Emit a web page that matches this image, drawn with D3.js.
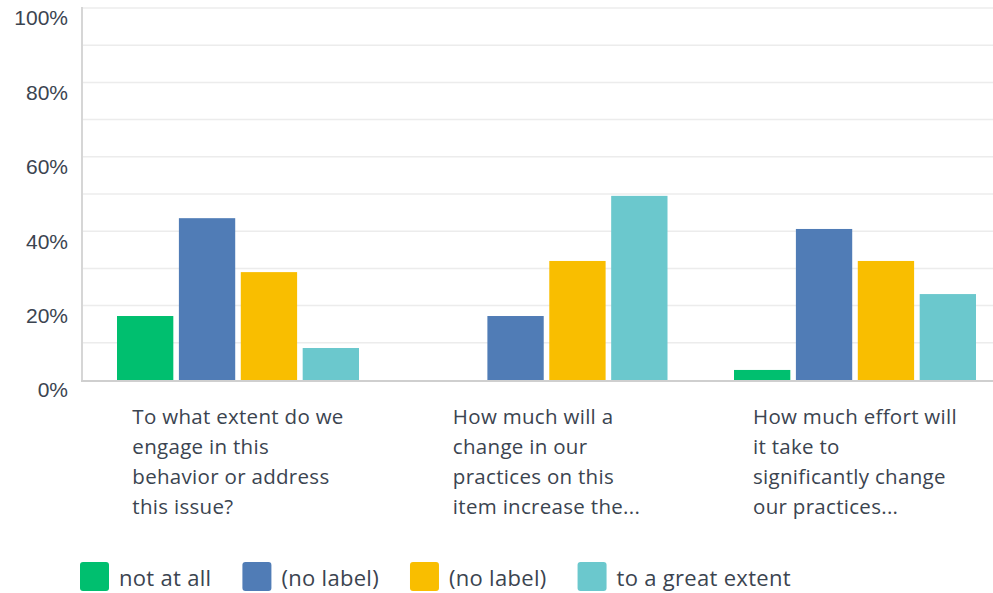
<!DOCTYPE html>
<html>
<head>
<meta charset="utf-8">
<script src="https://cdn.jsdelivr.net/npm/d3@7"></script>
<style>
  body { margin: 0; background: #fff; }
  svg { display: block; }
</style>
</head>
<body>
<div id="chart"></div>
<script>
// categories (question text, already wrapped as in the picture)
var questions = [
  ["To what extent do we", "engage in this", "behavior or address", "this issue?"],
  ["How much will a", "change in our", "practices on this", "item increase the..."],
  ["How much effort will", "it take to", "significantly change", "our practices..."]
];

// answer series
var seriesNames = ["not at all", "(no label)", "(no label)", "to a great extent"];
var seriesColors = ["#00bf6f", "#507cb6", "#f9be00", "#6bc8cd"];

// percent values per question, one list per series
var notAtAll = [17.2, 0, 2.7];
var noLabel1 = [43.5, 17.2, 40.6];
var noLabel2 = [29.0, 32.0, 32.0];
var greatExtent = [8.6, 49.5, 23.1];

var yTicks = [0, 20, 40, 60, 80, 100];

var seriesValues = [notAtAll, noLabel1, noLabel2, greatExtent];

var svgWidth = 993;
var svgHeight = 593;

var margin = { top: 8, left: 83 };
var plotBottom = 380;

var svg = d3.select("#chart")
  .append("svg")
  .attr("width", svgWidth)
  .attr("height", svgHeight);

var x0 = d3.scaleBand()
  .domain(d3.range(questions.length))
  .range([margin.left, margin.left + 925.5]);

var x1 = d3.scaleBand()
  .domain(d3.range(seriesNames.length))
  .range([34, 276])
  .paddingInner(0.09);

var y = d3.scaleLinear()
  .domain([0, 100])
  .range([plotBottom, margin.top]);

// gridlines every 10%
svg.append("g")
  .selectAll("line")
  .data(d3.range(10, 101, 10))
  .enter()
  .append("line")
  .attr("x1", margin.left)
  .attr("x2", margin.left + 925.5)
  .attr("y1", function(d) { return y(d); })
  .attr("y2", function(d) { return y(d); })
  .attr("stroke", "#ececec")
  .attr("stroke-width", 1.5);

// left axis line
svg.append("line")
  .attr("x1", margin.left - 1)
  .attr("x2", margin.left - 1)
  .attr("y1", y(100) - 1)
  .attr("y2", plotBottom + 1)
  .attr("stroke", "#d6d6d6")
  .attr("stroke-width", 2);

// y tick labels (sit a little below their gridline)
var leftAxis = d3.axisLeft(y)
  .tickValues(yTicks)
  .tickSize(0)
  .tickPadding(15)
  .tickFormat(function(d) { return d + "%"; });

var yAxisG = svg.append("g")
  .attr("transform", "translate(" + margin.left + ",0)")
  .call(leftAxis);
yAxisG.select(".domain").remove();
yAxisG.selectAll("text")
  .attr("dy", "0.8em")
  .attr("font-family", "'Liberation Sans', Arial, sans-serif")
  .attr("font-size", "21px")
  .attr("fill", "#3b4450");

// bars
var groups = svg.append("g")
  .selectAll("g")
  .data(questions)
  .enter()
  .append("g")
  .attr("transform", function(d, i) { return "translate(" + x0(i) + ",0)"; });

groups.selectAll("rect")
  .data(function(d, qi) {
    return seriesValues.map(function(vals, si) { return { s: si, v: vals[qi] }; });
  })
  .enter()
  .append("rect")
  .attr("x", function(d) { return x1(d.s); })
  .attr("width", x1.bandwidth())
  .attr("y", function(d) { return y(d.v); })
  .attr("height", function(d) { return plotBottom - y(d.v); })
  .attr("fill", function(d) { return seriesColors[d.s]; });

// baseline
svg.append("line")
  .attr("x1", margin.left - 2)
  .attr("x2", margin.left + 925.5)
  .attr("y1", plotBottom + 1)
  .attr("y2", plotBottom + 1)
  .attr("stroke", "#cfcfcf")
  .attr("stroke-width", 2);

// category labels: left aligned block, centred under its bar group
groups.each(function(lines) {
  var g = d3.select(this);
  var t = g.append("text")
    .attr("font-family", "'Open Sans', sans-serif")
    .attr("font-size", "20.5px")
    .attr("letter-spacing", "0.3px")
    .attr("fill", "#3b4450");
  lines.forEach(function(line, li) {
    t.append("tspan")
      .attr("y", 424 + li * 30)
      .text(line);
  });
  var maxW = 0;
  t.selectAll("tspan").each(function() {
    maxW = Math.max(maxW, this.getComputedTextLength());
  });
  var cx = (x1(0) + x1(seriesNames.length - 1) + x1.bandwidth()) / 2;
  t.selectAll("tspan").attr("x", cx - maxW / 2);
});

// legend
var legend = svg.append("g").attr("transform", "translate(80,562)");
var lx = 0;
seriesNames.forEach(function(name, i) {
  var item = legend.append("g").attr("transform", "translate(" + lx + ",0)");
  item.append("rect")
    .attr("width", 29)
    .attr("height", 29)
    .attr("rx", 3)
    .attr("fill", seriesColors[i]);
  var txt = item.append("text")
    .attr("x", 39)
    .attr("y", 24)
    .attr("font-family", "'Open Sans', sans-serif")
    .attr("font-size", "22px")
    .attr("letter-spacing", "0.3px")
    .attr("fill", "#3b4450")
    .text(name);
  lx += 39 + txt.node().getComputedTextLength() + 31;
});
</script>
</body>
</html>
